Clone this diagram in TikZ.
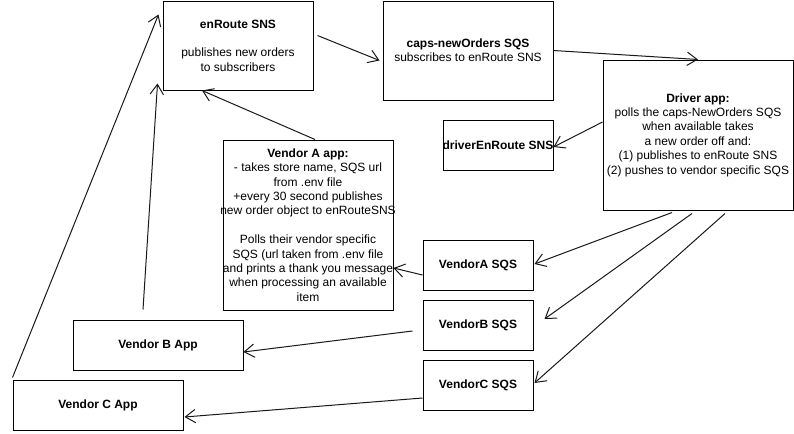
\documentclass[tikz,border=0pt]{standalone}
\usepackage{fontspec}
\setmainfont{Liberation Sans}
\usetikzlibrary{arrows.meta}
\begin{document}
\begin{tikzpicture}[x=0.75pt,y=-0.75pt,
  box/.style={draw, line width=0.75pt, inner sep=0pt, align=center, font=\fontsize{9}{10.8}\selectfont},
  sz/.style 2 args={minimum width=#1*0.75pt, minimum height=#2*0.75pt},
  conn/.style={line width=0.75pt, draw=black!90, -{Straight Barb[length=7.5pt,width=10pt]}}]
\useasboundingbox (0,0) rectangle (794,433);

\node[box, sz={150}{89}] (enroute) at (238,45.5) {\textbf{enRoute SNS}\\[10.8pt]publishes new orders\\to subscribers};
\node[box, sz={170}{99}] (caps) at (468,50.5) {\textbf{caps-newOrders SQS}\\subscribes to enRoute SNS};
\node[box, sz={190}{150}] (driver) at (698,135) {\textbf{Driver app:}\\polls the caps-NewOrders SQS\\when available takes\\a new order off and:\\(1) publishes to enRoute SNS\\(2) pushes to vendor specific SQS};
\node[box, sz={110}{50}] (drvsns) at (498,145) {\makebox[0pt]{\textbf{driverEnRoute SNS}}};
\node[box, sz={170}{170}] (vendora) at (308,225) {\textbf{Vendor A app:}\\- takes store name, SQS url\\from .env file\\+every 30 second publishes\\\makebox[0pt]{new order object to enRouteSNS}\\[10.8pt]Polls their vendor specific\\\makebox[0pt]{SQS (url taken from .env file}\\\makebox[0pt]{and prints a thank you message}\\when processing an available\\item};
\node[box, sz={110}{50}] (vasqs) at (478,265) {\textbf{VendorA SQS}};
\node[box, sz={110}{50}] (vbsqs) at (478,325) {\textbf{VendorB SQS}};
\node[box, sz={110}{50}] (vcsqs) at (478,385) {\textbf{VendorC SQS}};
\node[box, sz={170}{50}] (vendorb) at (158,345) {\textbf{Vendor B App}};
\node[box, sz={170}{50}] (vendorc) at (98,405) {\textbf{Vendor C App}};

\draw[conn] ([shift={(4,-10)}]enroute.east) -- ([shift={(-3,10)}]caps.west);
\draw[conn] (caps.east) -- (driver.north);
\draw[conn] ([shift={(0,-13)}]driver.west) -- ([shift={(0,2)}]drvsns.east);
\draw[conn] ([shift={(-26,2)}]driver.south) -- ([shift={(1,-1)}]vasqs.east);
\draw[conn] ([shift={(-6,3)}]driver.south) -- ([shift={(11,-6)}]vbsqs.east);
\draw[conn] ([shift={(27,3)}]driver.south) -- ([shift={(1,-2)}]vcsqs.east);
\draw[conn] ([shift={(0,10)}]vasqs.west) -- ([shift={(0,43)}]vendora.east);
\draw[conn] ([shift={(-10,6)}]vbsqs.west) -- ([shift={(0,7)}]vendorb.east);
\draw[conn] ([shift={(0,13)}]vcsqs.west) -- ([shift={(1,12)}]vendorc.east);
\draw[conn] ([shift={(7,0)}]vendora.north) -- ([shift={(-36,0)}]enroute.south);
\draw[conn] ([shift={(-15,-10)}]vendorb.north) -- ([shift={(-5,-7)}]enroute.south west);
\draw[conn] ([shift={(0,-2)}]vendorc.north west) -- ([shift={(-4,14)}]enroute.north west);
\end{tikzpicture}
\end{document}
